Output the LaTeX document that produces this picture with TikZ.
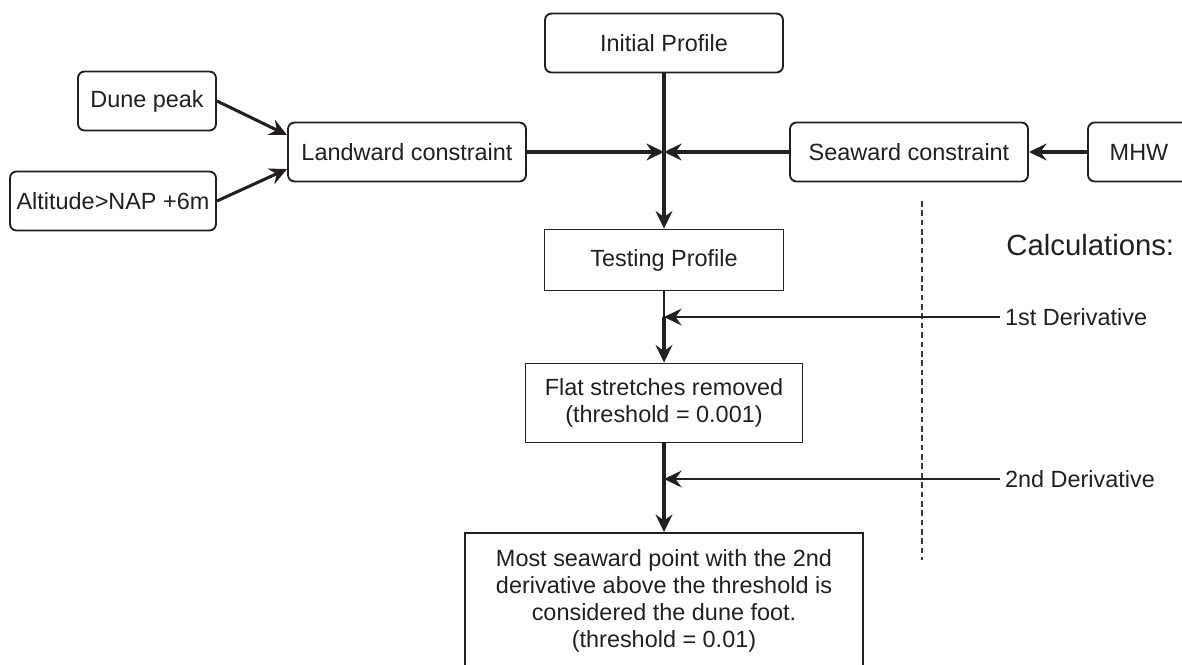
\documentclass[tikz,border=0pt]{standalone}
\usepackage{fontspec}
\setmainfont{Liberation Sans}
\usepackage{tikz}
\usetikzlibrary{positioning,arrows.meta}
\definecolor{InkDark}{HTML}{231F20}
\definecolor{GuideGray}{HTML}{3A3A3A}

\tikzset{
  roundbox/.style={draw=InkDark, line width=0.8pt, rounded corners=2.8pt, minimum height=0.885cm,
    inner sep=2pt, text=InkDark, font=\fontsize{10}{11.5}\selectfont},
  sharpbox/.style={draw=InkDark, line width=0.8pt, align=center, inner sep=2pt, text=InkDark,
    font=\fontsize{10}{11.5}\selectfont},
  flow/.style={-{Stealth[length=7.5pt,width=7.2pt,inset=2.6pt]}, line width=1.3pt, draw=InkDark},
  feed/.style={-{Stealth[length=7.5pt,width=7.2pt,inset=2.6pt]}, line width=1pt, draw=InkDark},
  calclabel/.style={anchor=west, inner sep=2pt, text=InkDark, font=\fontsize{10}{11.5}\selectfont}
}

\begin{document}
\begin{tikzpicture}[x=0.015cm, y=-0.015cm]
  \useasboundingbox (0,0) rectangle (1182,664);

  % Inputs of the constraints
  \node[roundbox, minimum width=2.07cm] (dune) at (147,101) {Dune peak};
  \node[roundbox, minimum width=3.09cm] (alt) at (113,201) {Altitude>NAP +6m};
  \node[roundbox, minimum width=1.53cm] (mhw) at (1139,152) {MHW};

  % Constraints and profiles
  \node[roundbox, minimum width=3.57cm] (init) at (664,43) {Initial Profile};
  \node[roundbox, minimum width=3.57cm] (land) at (407,152) {Landward constraint};
  \node[roundbox, minimum width=3.57cm] (sea) at (909,152) {Seaward constraint};
  \coordinate (jn) at (664,152);
  \node[sharpbox, minimum width=3.585cm, minimum height=0.915cm] (test) at (664,260) {Testing Profile};
  \node[sharpbox, minimum width=4.155cm, minimum height=1.185cm] (flat) at (664,403)
    {Flat stretches removed\\(threshold = 0.001)};
  \node[sharpbox, minimum width=5.97cm, minimum height=2.04cm] (foot) at (664,601)
    {Most seaward point with the 2nd\\derivative above the threshold is\\considered the dune foot.\\(threshold = 0.01)};

  % Calculations column
  \draw[GuideGray, line width=0.8pt, dash pattern=on 2.4pt off 1.6pt] (922,201) -- (922,560);
  \node[anchor=west, inner sep=0pt, text=InkDark, font=\fontsize{12.5}{14}\selectfont] (calc) at (1006,245) {Calculations:};
  \node[calclabel] (d1) at (1000,317) {1st Derivative};
  \node[calclabel] (d2) at (1000,479) {2nd Derivative};
  \coordinate (j1) at (664,317);
  \coordinate (j2) at (664,479);

  % Connectors
  \draw[flow] (dune.east) -- ([yshift=0.255cm]land.west);
  \draw[flow] (alt.east) -- ([yshift=-0.255cm]land.west);
  \draw[flow] (mhw.west) -- (sea.east);
  \draw[flow] (land.east) -- (jn);
  \draw[flow] (sea.west) -- (jn);
  \draw[flow] (init.south) -- (test.north);
  \draw[InkDark, line width=0.7pt] (test.south) -- (j1);
  \draw[flow] (j1) -- (flat.north);
  \draw[feed] (d1.west) -- (j1);
  \draw[flow] (flat.south) -- (foot.north);
  \draw[feed] (d2.west) -- (j2);
\end{tikzpicture}
\end{document}
